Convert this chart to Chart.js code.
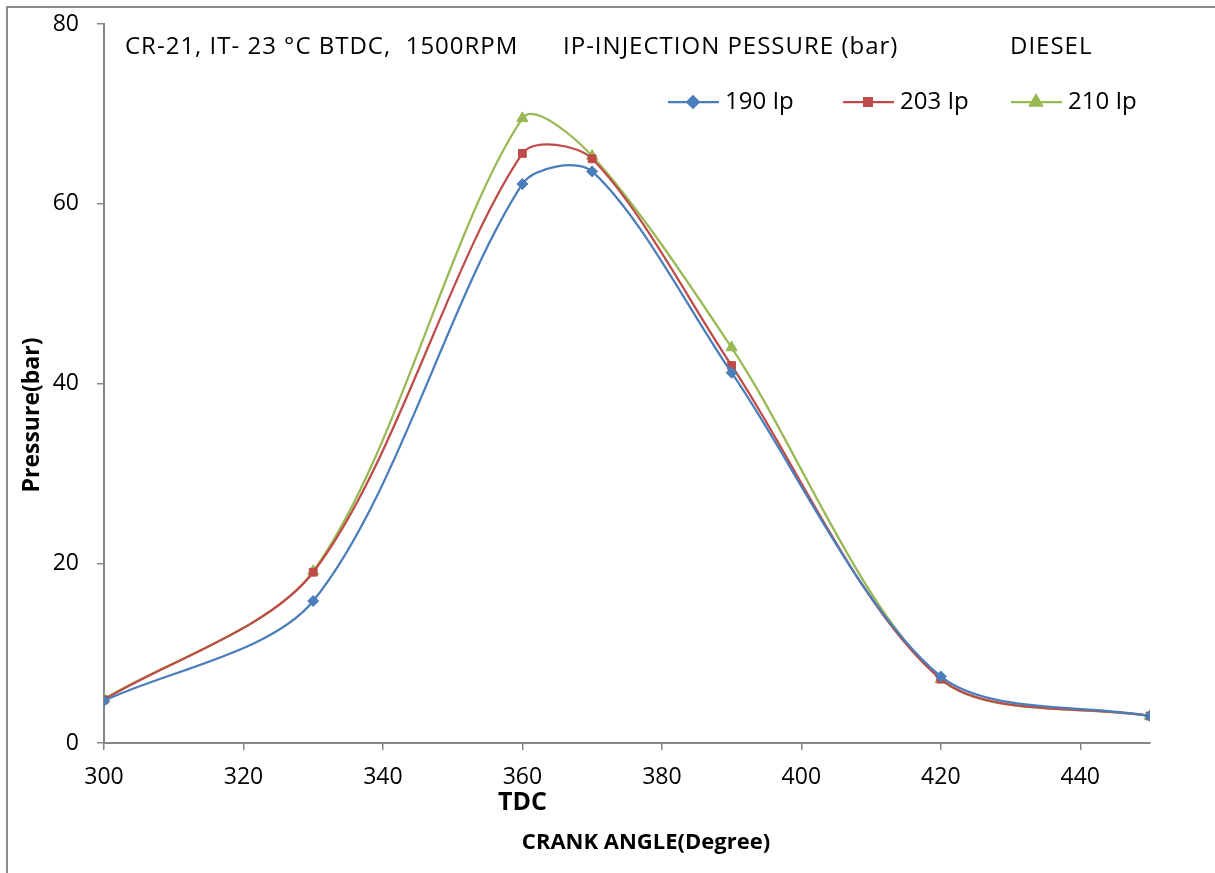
<!DOCTYPE html>
<html>
<head>
<meta charset="utf-8">
<script src="https://cdn.jsdelivr.net/npm/chart.js@4/dist/chart.umd.min.js"></script>
<style>
  html, body { margin: 0; padding: 0; background: #fff; }
  #wrap { width: 1215px; height: 873px; position: relative; }
</style>
</head>
<body>
<div id="wrap"><canvas id="myChart" width="1215" height="873"></canvas></div>
<script>
// crank angle (degree) and cylinder pressure (bar)
var crankAngle = [300, 330, 360, 370, 390, 420, 450];
var p190 = [4.7, 15.8, 62.2, 63.6, 41.2, 7.4, 3.0];
var p203 = [4.8, 19.0, 65.6, 65.0, 42.0, 7.1, 3.0];
var p210 = [4.9, 19.1, 69.5, 65.3, 44.0, 7.1, 3.0];
var seriesNames = ['190 Ip', '203 Ip', '210 Ip'];
var yTicks = [0, 20, 40, 60, 80];
var xTicks = [300, 320, 340, 360, 380, 400, 420, 440];

var FONT = '"Open Sans", Lato, sans-serif';
var axisGrey = '#868686';

function pts(ys) {
    return crankAngle.map(function (x, i) { return { x: x, y: ys[i] }; });
}

var colors = ['#4A7EBB', '#BE4B48', '#98B954'];
var shapes = ['rectRot', 'rect', 'triangle'];
var radii = [5.5, 5.5, 6.5];

var datasets = [p190, p203, p210].map(function (ys, i) {
    return {
        label: seriesNames[i],
        data: pts(ys),
        borderColor: colors[i],
        backgroundColor: colors[i],
        borderWidth: 2.25,
        pointStyle: shapes[i],
        pointRadius: radii[i],
        pointBorderWidth: 1,
        tension: 0.3,
        fill: false
    };
});

// texts, legend, frame
var decor = {
    id: 'decor',
    beforeDraw(chart) {
        var c = chart.ctx;
        c.save();
        c.fillStyle = '#fff';
        c.fillRect(0, 0, chart.width, chart.height);
        c.strokeStyle = '#8c8c8c';
        c.lineWidth = 2;
        c.strokeRect(7, 7, chart.width + 20, chart.height + 20);
        c.restore();
    },
    afterDraw(chart) {
        var c = chart.ctx;
        var xs = chart.scales.x;
        c.save();
        c.fillStyle = '#000';
        c.textBaseline = 'middle';
        c.font = '24px ' + FONT;
        c.textAlign = 'left';
        c.letterSpacing = '1px';
        c.fillText('CR-21, IT- 23 °C BTDC,  1500RPM', 125, 47);
        c.fillText('IP-INJECTION PESSURE (bar)', 563, 47);
        c.fillText('DIESEL', 1010, 47);
        c.letterSpacing = '0px';

        // legend
        var lx = [668, 843, 1011];
        chart.data.datasets.forEach(function (ds, i) {
            var y = 102;
            c.strokeStyle = ds.borderColor;
            c.lineWidth = 2.25;
            c.beginPath();
            c.moveTo(lx[i], y);
            c.lineTo(lx[i] + 51, y);
            c.stroke();
            Chart.helpers.drawPoint(c, {
                pointStyle: ds.pointStyle, radius: ds.pointRadius, borderWidth: 1
            }, lx[i] + 25, y);
            c.fillStyle = ds.backgroundColor;
            c.strokeStyle = ds.borderColor;
            c.fill();
            c.stroke();
            c.fillStyle = '#000';
            c.font = '24px ' + FONT;
            c.fillText(ds.label, lx[i] + 57, y);
        });

        c.font = 'bold 25px ' + FONT;
        c.textAlign = 'center';
        c.fillText('TDC', xs.getPixelForValue(360), 803);
        c.font = 'bold 22px ' + FONT;
        c.fillText('CRANK ANGLE(Degree)', 646, 843);

        c.translate(32, 415);
        c.rotate(-Math.PI / 2);
        c.font = 'bold 23px ' + FONT;
        c.fillText('Pressure(bar)', 0, 0);
        c.restore();
    }
};

new Chart(document.getElementById('myChart').getContext('2d'), {
    type: 'line',
    data: { datasets: datasets },
    options: {
        responsive: false,
        animation: false,
        layout: { padding: { left: 0, top: 24, right: 65, bottom: 0 } },
        plugins: { legend: { display: false }, tooltip: { enabled: false } },
        scales: {
            x: {
                type: 'linear',
                min: 300, max: 450,
                afterBuildTicks(s) { s.ticks = xTicks.map(function (v) { return { value: v }; }); },
                afterFit(s) { s.height = 130; s.paddingLeft = 0; s.paddingRight = 0; },
                grid: { drawOnChartArea: false, drawTicks: true, tickLength: 7, color: axisGrey, lineWidth: 1.5 },
                border: { color: axisGrey, width: 2 },
                ticks: { color: '#000', font: { family: FONT, size: 23 }, padding: 14, maxRotation: 0 }
            },
            y: {
                min: 0, max: 80,
                afterBuildTicks(s) { s.ticks = yTicks.map(function (v) { return { value: v }; }); },
                afterFit(s) { s.width = 104; s.paddingTop = 0; s.paddingBottom = 0; },
                grid: { drawOnChartArea: false, drawTicks: true, tickLength: 7, color: axisGrey, lineWidth: 1.5 },
                border: { color: axisGrey, width: 2 },
                ticks: { color: '#000', font: { family: FONT, size: 23 }, padding: 18 }
            }
        }
    },
    plugins: [decor]
});
</script>
</body>
</html>
